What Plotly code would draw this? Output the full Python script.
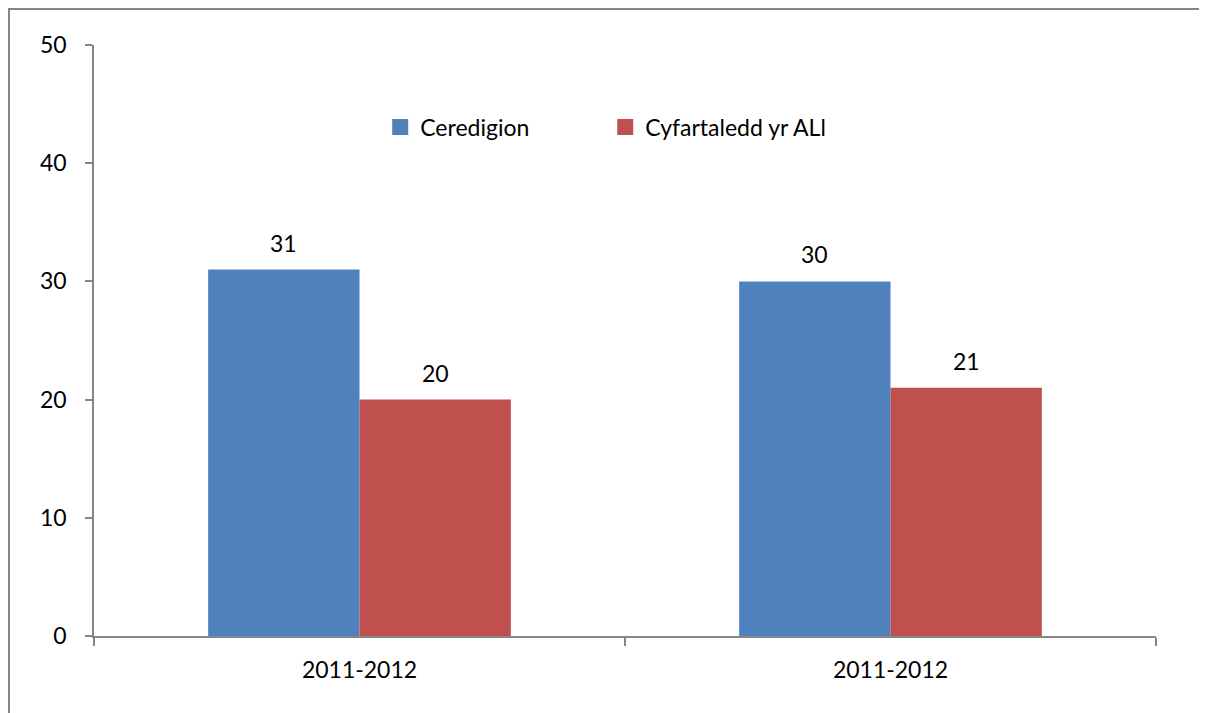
import plotly.graph_objects as go

categories = ["2011-2012", "2011-2012"]
series_names = ["Ceredigion", "Cyfartaledd yr ALl"]
ceredigion = [31, 30]
cyfartaledd = [20, 21]
y_ticks = [0, 10, 20, 30, 40, 50]

colors = ["#4F81BD", "#C0504D"]
font = "Lato"
fs = 23
W, H = 1207, 713
ml, mr, mt, mb = 86, 59, 37, 85
pw, ph = W - ml - mr, H - mt - mb

xpos = list(range(len(categories)))
fig = go.Figure()
for name, vals, col in [(series_names[0], ceredigion, colors[0]),
                        (series_names[1], cyfartaledd, colors[1])]:
    fig.add_trace(go.Bar(x=xpos, y=vals, name=name, marker_color=col,
                         marker_line_width=0, showlegend=False))
    fig.add_trace(go.Scatter(x=[None], y=[None], mode="markers", name=name,
                             marker=dict(symbol="square", size=16, color=col)))

# data labels
bw = (1 - 0.43) / 2
for vals, off in [(ceredigion, -0.5), (cyfartaledd, 0.5)]:
    for i, v in enumerate(vals):
        fig.add_annotation(x=i + off * bw, y=v, text=str(v), showarrow=False,
                           yanchor="bottom", yshift=11,
                           font=dict(family=font, size=fs, color="black"))

def px_to_paper_x(px):
    return (px - ml) / pw

def px_to_paper_y(py):
    return (H - mb - py) / ph

fig.add_shape(type="rect", xref="paper", yref="paper",
              x0=px_to_paper_x(1), x1=px_to_paper_x(W + 20),
              y0=px_to_paper_y(H + 20), y1=px_to_paper_y(1),
              line=dict(color="#868686", width=2), fillcolor="rgba(0,0,0,0)", layer="below")

fig.update_layout(
    width=W, height=H,
    margin=dict(l=ml, r=mr, t=mt, b=mb),
    paper_bgcolor="white", plot_bgcolor="white",
    barmode="group", bargap=0.43, bargroupgap=0,
    font=dict(family=font, size=fs, color="black"),
    legend=dict(orientation="h", x=0.2695, y=0.861, xanchor="left", yanchor="middle",
                entrywidth=180, entrywidthmode="pixels",
                font=dict(family=font, size=fs, color="black"),
                bgcolor="rgba(0,0,0,0)"),
    xaxis=dict(range=[-0.5, len(categories) - 0.5], tickvals=xpos, ticktext=categories,
               ticks="", showgrid=False, zeroline=False, showline=True,
               linecolor="#868686", linewidth=1.5, ticklabelstandoff=13,
               minor=dict(tickvals=[i - 0.5 for i in range(len(categories) + 1)],
                          ticks="outside", ticklen=8, tickcolor="#868686", tickwidth=1.5),
               fixedrange=True),
    yaxis=dict(range=[0, 50], tickvals=y_ticks, ticks="outside", ticklen=7,
               tickcolor="#868686", tickwidth=1.5, showgrid=False, zeroline=False,
               showline=True, linecolor="#868686", linewidth=1.5, ticklabelstandoff=14),
)

fig.write_html("out.html")
